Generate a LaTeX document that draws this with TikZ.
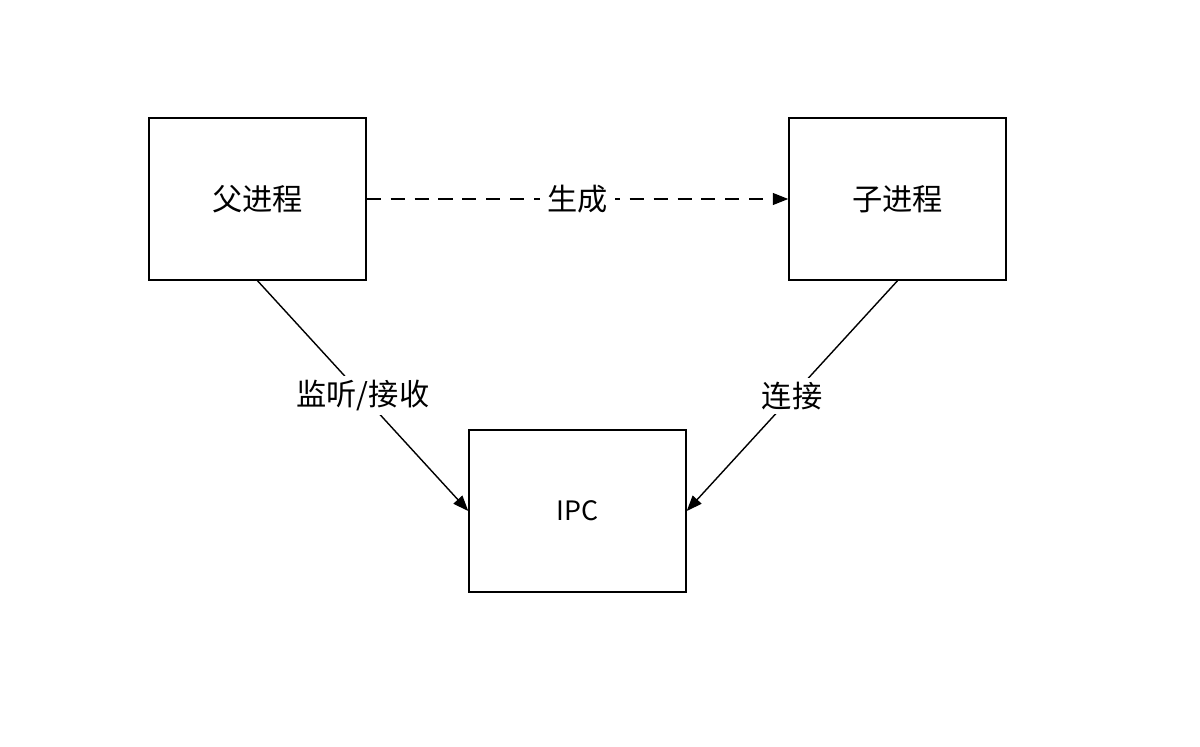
\documentclass[tikz,border=0pt]{standalone}
\usepackage{fontspec}
\setmainfont{Noto Sans CJK SC}
\usetikzlibrary{arrows.meta}

\tikzset{
    procbox/.style={draw, line width=1pt, minimum width=5.425cm, minimum height=4.05cm, font=\fontsize{21.5}{26}\selectfont},
    edgelabel/.style={fill=white, inner sep=5pt, font=\fontsize{21.5}{26}\selectfont},
    link/.style={line width=1pt, -{Triangle[length=11pt, width=8.5pt]}}
}

\begin{document}
\begin{tikzpicture}[x=0.025cm, y=-0.025cm]
        \useasboundingbox[fill=white] (0,0) rectangle (1200,747);

        \node[procbox] (parent) at (257.5,199) {父进程};
        \node[procbox] (child) at (897.5,199) {子进程};
        \node[procbox, font=\fontsize{19}{23}\selectfont] (ipc) at (577.5,511) {IPC};

        \draw[link, dash pattern=on 10pt off 7pt] (parent.east) -- node[edgelabel] {生成} (child.west);
        \draw[link] (parent.south) -- node[edgelabel, inner sep=3pt] {监听/接收} (ipc.west);
        \draw[link] (child.south) -- node[edgelabel, inner sep=3pt] {连接} (ipc.east);
    \end{tikzpicture}
\end{document}
